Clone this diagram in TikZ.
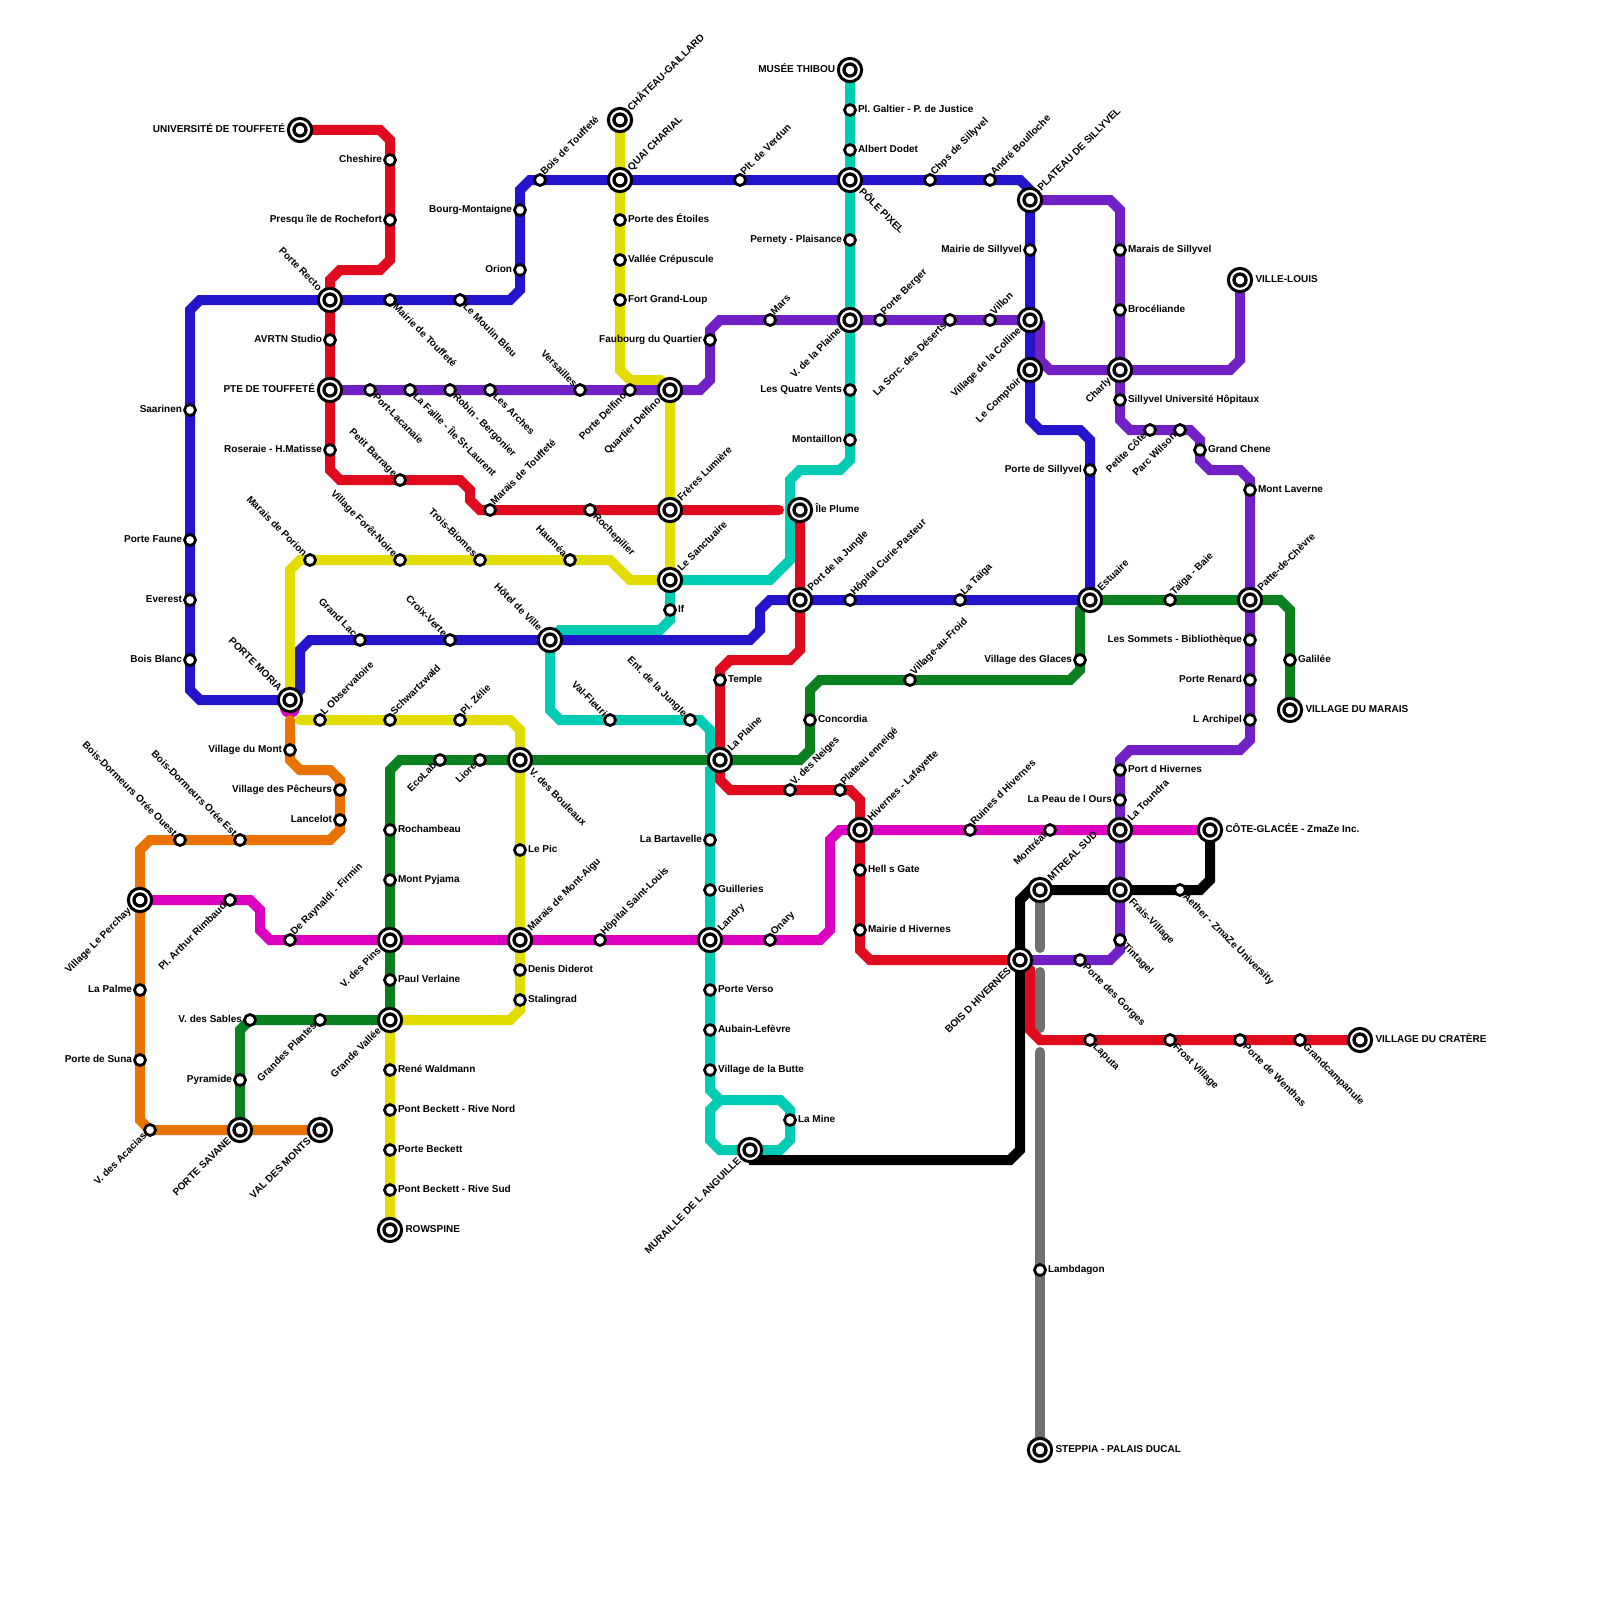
\documentclass[tikz,border=0pt]{standalone}
\usepackage{fontspec}
\setmainfont{Liberation Sans}
\usetikzlibrary{backgrounds}
\definecolor{redline}{HTML}{E00A1E}
\definecolor{blueline}{HTML}{2414CC}
\definecolor{violetline}{HTML}{7020C4}
\definecolor{tealline}{HTML}{00CCB4}
\definecolor{yellowline}{HTML}{E2DC00}
\definecolor{greenline}{HTML}{0A801E}
\definecolor{orangeline}{HTML}{E87300}
\definecolor{pinkline}{HTML}{DC00C0}
\definecolor{greyline}{HTML}{707070}
\tikzset{
  stn/.style={circle,draw=black,fill=white,line width=2.75pt,inner sep=0pt,minimum size=11pt},
  term/.style={stn,line width=3pt,minimum size=23.3pt},
  termcore/.style={stn,line width=3.3pt,minimum size=12pt},
  ln/.style={line width=10pt,line cap=round,line join=miter},
  lab/.style={font=\bfseries\fontsize{10}{10}\selectfont\frenchspacing,inner sep=0pt,outer sep=0pt},
  lE/.style={lab,anchor=base west,xshift=8pt,yshift=-2.7pt},
  lW/.style={lab,anchor=base east,xshift=-8pt,yshift=-2.7pt},
  lNE/.style={lab,anchor=base west,xshift=4.5pt,yshift=4.5pt,rotate=45},
  lSE/.style={lab,anchor=base west,xshift=2.5pt,yshift=-7.5pt,rotate=-45},
  lNW/.style={lab,anchor=base east,xshift=-7pt,yshift=3pt,rotate=-45},
  lSW/.style={lab,anchor=base east,xshift=-3pt,yshift=-6.5pt,rotate=45},
  tE/.style={lab,anchor=base west,xshift=15.5pt,yshift=-2.7pt},
  tW/.style={lab,anchor=base east,xshift=-15pt,yshift=-2.7pt},
  tNE/.style={lab,anchor=base west,xshift=11.5pt,yshift=8.5pt,rotate=45},
  tSE/.style={lab,anchor=base west,xshift=8.5pt,yshift=-12.5pt,rotate=-45},
  tNW/.style={lab,anchor=base east,xshift=-12pt,yshift=8.5pt,rotate=-45},
  tSW/.style={lab,anchor=base east,xshift=-8.5pt,yshift=-11.5pt,rotate=45},
}
\begin{document}
\begin{tikzpicture}[x=10pt,y=-10pt]
\useasboundingbox (0,0) rectangle (160,160);
\foreach \nm/\x/\y/\lbl/\pos in {
  cheshire/39/16/Cheshire/lW, presqu/39/22/Presqu île de Rochefort/lW, avrtn/33/34/AVRTN Studio/lW,
  roseraie/33/45/Roseraie - H.Matisse/lW, barrage/40/48/Petit Barrage/lNW, maraistouf/49/51/Marais de Touffeté/lNE,
  rochepilier/59/51/Rochepilier/lSE, temple/72/68/Temple/lE, neiges/79/79/V. des Neiges/lNE,
  enneige/84/79/Plateau enneigé/lNE, hell/86/87/Hell s Gate/lE, mairiehiv/86/93/Mairie d Hivernes/lE,
  laputa/109/104/Laputa/lSE, frost/117/104/Frost Village/lSE, wenthas/124/104/Porte de Wenthas/lSE,
  campanule/130/104/Grandcampanule/lSE,
  saarinen/19/41/Saarinen/lW, faune/19/54/Porte Faune/lW, everest/19/60/Everest/lW, blanc/19/66/Bois Blanc/lW,
  mairietouf/39/30/Mairie de Touffeté/lSE, moulin/46/30/Le Moulin Bleu/lSE, orion/52/27/Orion/lW,
  bourg/52/21/Bourg-Montaigne/lW, boistouf/54/18/Bois de Touffeté/lNE, verdun/74/18/Plt. de Verdun/lNE,
  chps/93/18/Chps de Sillyvel/lNE, andre/99/18/André Boulloche/lNE, mairiesil/103/25/Mairie de Sillyvel/lW,
  portesil/109/47/Porte de Sillyvel/lW, taiga/96/60/La Taïga/lNE, curie/85/60/Hôpital Curie-Pasteur/lNE,
  croix/45/64/Croix-Verte/lNW, lac/36/64/Grand Lac/lNW,
  galtier/85/11/Pl. Galtier - P. de Justice/lE, dodet/85/15/Albert Dodet/lE, pernety/85/24/Pernety - Plaisance/lW,
  vents/85/39/Les Quatre Vents/lW, montaillon/85/44/Montaillon/lW, ifst/67/61/If/lE, valfleuri/61/72/Val-Fleuri/lNW,
  entjungle/69/72/Ent. de la Jungle/lNW, bartavelle/71/84/La Bartavelle/lW, guilleries/71/89/Guilleries/lE,
  verso/71/99/Porte Verso/lE, aubain/71/103/Aubain-Lefèvre/lE, butte/71/107/Village de la Butte/lE, mine/79/112/La Mine/lE,
  etoiles/62/22/Porte des Étoiles/lE, crepuscule/62/26/Vallée Crépuscule/lE, grandloup/62/30/Fort Grand-Loup/lE,
  haumea/57/56/Hauméa/lNW, biomes/48/56/Trois-Biomes/lNW, foret/40/56/Village Forêt-Noire/lNW, porion/31/56/Marais de Porion/lNW,
  observatoire/32/72/L Observatoire/lNE, schwartz/39/72/Schwartzwald/lNE, zelie/46/72/Pl. Zélie/lNE, lepic/52/85/Le Pic/lE,
  diderot/52/97/Denis Diderot/lE, stalingrad/52/100/Stalingrad/lE, waldmann/39/107/René Waldmann/lE,
  becknord/39/111/Pont Beckett - Rive Nord/lE, beckett/39/115/Porte Beckett/lE, becksud/39/119/Pont Beckett - Rive Sud/lE,
  vmont/29/75/Village du Mont/lW, pecheurs/34/79/Village des Pêcheurs/lW, lancelot/34/82/Lancelot/lW,
  oreeest/24/84/Bois-Dormeurs Orée Est/lNW, oreeouest/18/84/Bois-Dormeurs Orée Ouest/lNW, palme/14/99/La Palme/lW,
  suna/14/106/Porte de Suna/lW, acacias/15/113/V. des Acacias/lSW,
  rimbaud/23/90/Pl. Arthur Rimbaud/lSW, raynaldi/29/94/De Raynaldi - Firmin/lNE, stlouis/60/94/Hôpital Saint-Louis/lNE,
  onary/77/94/Onary/lNE, ruines/97/83/Ruines d Hivernes/lNE, montreal/105/83/Montréal/lSW,
  lacanaie/37/39/Port-Lacanaie/lSE, faille/41/39/La Faille - Île St-Laurent/lSE, robin/45/39/Robin - Bergonier/lSE,
  arches/49/39/Les Arches/lSE, versailles/58/39/Versailles/lNW, delfino/63/39/Porte Delfino/lSW,
  faubourg/71/34/Faubourg du Quartier/lW, mars/77/32/Mars/lNE, berger/88/32/Porte Berger/lNE,
  sorc/95/32/La Sorc. des Déserts/lSW, villon/99/32/Villon/lNE, maraissil/112/25/Marais de Sillyvel/lE,
  broceliande/112/31/Brocéliande/lE, univsil/112/40/Sillyvel Université Hôpitaux/lE, cote/115/43/Petite Côte/lSW,
  wilson/118/43/Parc Wilson/lSW, chene/120/45/Grand Chene/lE, laverne/125/49/Mont Laverne/lE,
  sommets/125/64/Les Sommets - Bibliothèque/lW, renard/125/68/Porte Renard/lW, archipel/125/72/L Archipel/lW,
  porthiv/112/77/Port d Hivernes/lE, ours/112/80/La Peau de l Ours/lW, tintagel/112/94/Tintagel/lSE, gorges/108/96/Porte des Gorges/lSE,
  rochambeau/39/83/Rochambeau/lE, pyjama/39/88/Mont Pyjama/lE, verlaine/39/98/Paul Verlaine/lE, sables/25/102/V. des Sables/lW,
  plantes/32/102/Grandes Plantes/lSW, pyramide/24/108/Pyramide/lW, ecolab/44/76/EcoLab/lSW, liore/48/76/Liore/lSW,
  concordia/81/72/Concordia/lE, froid/91/68/Village-au-Froid/lNE, glaces/108/66/Village des Glaces/lW,
  baie/117/60/Taïga - Baie/lNE, galilee/129/66/Galilée/lE, aether/118/89/Aether - ZmaZe University/lSE, lambdagon/104/127/Lambdagon/lE}
{
  \node[stn] (\nm) at (\x,\y) {};
  \node[\pos] (\nm-lab) at (\x,\y) {\lbl};
}
\foreach \nm/\x/\y/\lbl/\pos in {
  univ/30/13/UNIVERSITÉ DE TOUFFETÉ/tW, recto/33/30/Porte Recto/tNW, pte/33/39/PTE DE TOUFFETÉ/tW,
  chateau/62/12/CHÂTEAU-GAILLARD/tNE, quai/62/18/QUAI CHARIAL/tNE, musee/85/7/MUSÉE THIBOU/tW, pixel/85/18/PÔLE PIXEL/tSE,
  plateau/103/20/PLATEAU DE SILLYVEL/tNE, plaine/85/32/V. de la Plaine/tSW, colline/103/32/Village de la Colline/tSW,
  comptoir/103/37/Le Comptoir/tSW, charly/112/37/Charly/tSW, villelouis/124/28/VILLE-LOUIS/tE,
  quartier/67/39/Quartier Delfino/tSW, freres/67/51/Frères Lumière/tNE, ileplume/80/51/Île Plume/tE,
  sanctuaire/67/58/Le Sanctuaire/tNE, hotel/55/64/Hôtel de Ville/tNW, jungle/80/60/Port de la Jungle/tNE,
  estuaire/109/60/Estuaire/tNE, patte/125/60/Patte-de-Chèvre/tNE, vmarais/129/71/VILLAGE DU MARAIS/tE,
  moria/29/70/PORTE MORIA/tNW, bouleaux/52/76/V. des Bouleaux/tSE, laplaine/72/76/La Plaine/tNE,
  perchay/14/90/Village Le Perchay/tSW, pins/39/94/V. des Pins/tSW, montaigu/52/94/Marais de Mont-Aigu/tNE,
  landry/71/94/Landry/tNE, hivernes/86/83/Hivernes - Lafayette/tNE, toundra/112/83/La Toundra/tNE,
  glacee/121/83/CÔTE-GLACÉE - ZmaZe Inc./tE, mtreal/104/89/MTREAL SUD/tNE, frais/112/89/Frais-Village/tSE,
  boishiv/102/96/BOIS D HIVERNES/tSW, vallee/39/102/Grande Vallée/tSW, savane/24/113/PORTE SAVANE/tSW,
  valmonts/32/113/VAL DES MONTS/tSW, rowspine/39/123/ROWSPINE/tE, muraille/75/115/MURAILLE DE L ANGUILLE/tSW,
  cratere/136/104/VILLAGE DU CRATÈRE/tE, steppia/104/145/STEPPIA - PALAIS DUCAL/tE}
{
  \node[term] (\nm) at (\x,\y) {};
  \node[termcore] (\nm-core) at (\x,\y) {};
  \node[\pos] (\nm-lab) at (\x,\y) {\lbl};
}
\coordinate (redstop) at (77.9,51);
\coordinate (yellowstart) at (30,72);
\coordinate (orangestart) at (29,72);
\coordinate (greyA) at (104,94.8);
\coordinate (greyB) at (104,97.2);
\coordinate (greyC) at (104,102.8);
\coordinate (greyD) at (104,105.2);
\begin{scope}[on background layer]
\node[circle,fill=pinkline,inner sep=0pt,minimum size=20pt] (moriablob) at (29,70.8) {};
\draw[ln,tealline] (musee.center) -- (galtier.center) -- (dodet.center) -- (pixel.center) -- (pernety.center) -- (plaine.center) -- (vents.center) -- (montaillon.center) -- (85,46) -- (84,47) -- (80,47) -- (79,48) -- (79,56) -- (77,58) -- (sanctuaire.center) -- (ifst.center) -- (67,62) -- (66,63) -- (56,63) -- (hotel.center) -- (55,71) -- (56,72) -- (valfleuri.center) -- (entjungle.center) -- (70,72) -- (71,73) -- (71,75) -- (laplaine.center) -- (71,77) -- (bartavelle.center) -- (guilleries.center) -- (landry.center) -- (verso.center) -- (aubain.center) -- (butte.center) -- (71,109) -- (72,110) -- (78,110) -- (79,111) -- (mine.center) -- (79,114) -- (78,115) -- (muraille.center) -- (72,115) -- (71,114) -- (71,111) -- (72,110);
\draw[ln,yellowline] (chateau.center) -- (quai.center) -- (etoiles.center) -- (crepuscule.center) -- (grandloup.center) -- (62,37) -- (63,38) -- (66,38) -- (quartier.center) -- (freres.center) -- (sanctuaire.center) -- (63,58) -- (61,56) -- (haumea.center) -- (biomes.center) -- (foret.center) -- (porion.center) -- (30,56) -- (29,57) -- (moria.center);
\draw[ln,yellowline] (yellowstart) -- (observatoire.center) -- (schwartz.center) -- (zelie.center) -- (51,72) -- (52,73) -- (bouleaux.center) -- (lepic.center) -- (montaigu.center) -- (diderot.center) -- (stalingrad.center) -- (52,101) -- (51,102) -- (vallee.center) -- (waldmann.center) -- (becknord.center) -- (beckett.center) -- (becksud.center) -- (rowspine.center);
\draw[ln,orangeline] (orangestart) -- (vmont.center) -- (29,76) -- (30,77) -- (33,77) -- (34,78) -- (pecheurs.center) -- (lancelot.center) -- (34,83) -- (33,84) -- (oreeest.center) -- (oreeouest.center) -- (15,84) -- (14,85) -- (perchay.center) -- (palme.center) -- (suna.center) -- (14,112) -- (acacias.center) -- (savane.center) -- (valmonts.center);
\draw[ln,pinkline] (perchay.center) -- (rimbaud.center) -- (25,90) -- (26,91) -- (26,93) -- (27,94) -- (raynaldi.center) -- (pins.center) -- (montaigu.center) -- (stlouis.center) -- (landry.center) -- (onary.center) -- (82,94) -- (83,93) -- (83,84) -- (84,83) -- (hivernes.center) -- (ruines.center) -- (montreal.center) -- (toundra.center) -- (glacee.center);
\draw[ln,violetline] (pte.center) -- (lacanaie.center) -- (faille.center) -- (robin.center) -- (arches.center) -- (versailles.center) -- (delfino.center) -- (quartier.center) -- (70,39) -- (71,38) -- (faubourg.center) -- (71,33) -- (72,32) -- (mars.center) -- (plaine.center) -- (berger.center) -- (sorc.center) -- (villon.center) -- (colline.center) -- (103.6,32) -- (104,32.4) -- (104,36) -- (105,37) -- (charly.center) -- (123,37) -- (124,36) -- (villelouis.center);
\draw[ln,violetline] (plateau.center) -- (111,20) -- (112,21) -- (maraissil.center) -- (broceliande.center) -- (charly.center) -- (univsil.center) -- (112,42) -- (113,43) -- (cote.center) -- (wilson.center) -- (119,43) -- (120,44) -- (chene.center) -- (120,46) -- (121,47) -- (124,47) -- (125,48) -- (laverne.center) -- (patte.center) -- (sommets.center) -- (renard.center) -- (archipel.center) -- (125,74) -- (124,75) -- (113,75) -- (112,76) -- (porthiv.center) -- (ours.center) -- (toundra.center) -- (frais.center) -- (tintagel.center) -- (112,95) -- (111,96) -- (gorges.center) -- (boishiv.center);
\draw[ln,blueline] (moria.center) -- (20,70) -- (19,69) -- (blanc.center) -- (everest.center) -- (faune.center) -- (saarinen.center) -- (19,31) -- (20,30) -- (recto.center) -- (mairietouf.center) -- (moulin.center) -- (51,30) -- (52,29) -- (orion.center) -- (bourg.center) -- (52,19) -- (53,18) -- (boistouf.center) -- (quai.center) -- (verdun.center) -- (pixel.center) -- (chps.center) -- (andre.center) -- (102,18) -- (103,19) -- (plateau.center) -- (mairiesil.center) -- (colline.center) -- (comptoir.center) -- (103,42) -- (104,43) -- (108,43) -- (109,44) -- (portesil.center) -- (estuaire.center) -- (taiga.center) -- (curie.center) -- (jungle.center) -- (77,60) -- (76,61) -- (76,63) -- (75,64) -- (hotel.center) -- (croix.center) -- (lac.center) -- (31,64) -- (30,65) -- (30,69) -- (moria.center);
\draw[ln,greyline] (mtreal.center) -- (greyA);
\draw[ln,greyline] (greyB) -- (greyC);
\draw[ln,greyline] (greyD) -- (lambdagon.center) -- (steppia.center);
\draw[ln,black] (glacee.center) -- (121,88) -- (120,89) -- (aether.center) -- (frais.center) -- (mtreal.center) -- (103,89) -- (102,90) -- (boishiv.center) -- (102,115) -- (101,116) -- (75.3,116) -- (muraille.center);
\draw[ln,redline] (univ.center) -- (38,13) -- (39,14) -- (cheshire.center) -- (presqu.center) -- (39,26) -- (38,27) -- (34,27) -- (33,28) -- (recto.center) -- (avrtn.center) -- (pte.center) -- (roseraie.center) -- (33,47) -- (34,48) -- (barrage.center) -- (46,48) -- (47,49) -- (47,50) -- (48,51) -- (maraistouf.center) -- (rochepilier.center) -- (freres.center) -- (redstop);
\draw[ln,redline] (ileplume.center) -- (jungle.center) -- (80,65) -- (79,66) -- (73,66) -- (72,67) -- (temple.center) -- (laplaine.center) -- (72,78) -- (73,79) -- (neiges.center) -- (enneige.center) -- (85,79) -- (86,80) -- (hivernes.center) -- (hell.center) -- (mairiehiv.center) -- (86,95) -- (87,96) -- (boishiv.center) -- (103,97) -- (103,103) -- (104,104) -- (laputa.center) -- (frost.center) -- (wenthas.center) -- (campanule.center) -- (cratere.center);
\draw[ln,greenline] (savane.center) -- (pyramide.center) -- (24,103) -- (sables.center) -- (plantes.center) -- (vallee.center) -- (verlaine.center) -- (pins.center) -- (pyjama.center) -- (rochambeau.center) -- (39,77) -- (40,76) -- (ecolab.center) -- (liore.center) -- (bouleaux.center) -- (laplaine.center) -- (80,76) -- (81,75) -- (concordia.center) -- (81,69) -- (82,68) -- (froid.center) -- (107,68) -- (108,67) -- (glaces.center) -- (108,61) -- (estuaire.center) -- (baie.center) -- (patte.center) -- (128,60) -- (129,61) -- (galilee.center) -- (vmarais.center);
\end{scope}
\end{tikzpicture}
\end{document}
